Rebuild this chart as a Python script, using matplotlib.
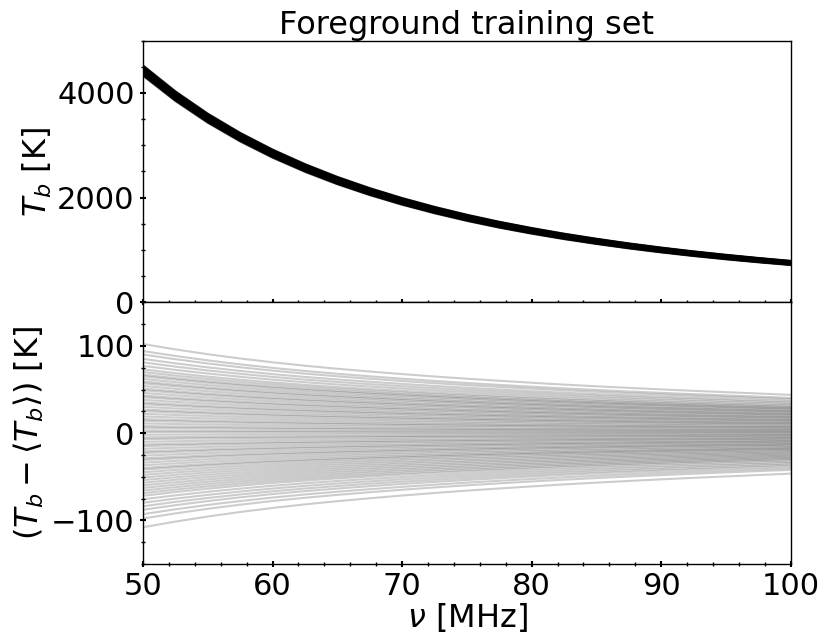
import matplotlib
matplotlib.use('Agg')
import matplotlib.pyplot as plt
import numpy as np
from matplotlib.ticker import MultipleLocator

# frequency samples [MHz] and mean sky temperature [K]
nu_mhz = [50, 52.5, 55, 57.5, 60, 62.5, 65, 67.5, 70, 72.5, 75,
          77.5, 80, 82.5, 85, 87.5, 90, 92.5, 95, 97.5, 100]
tb_mean = [4430, 3941, 3520, 3158, 2843, 2569, 2328, 2117, 1930, 1764, 1616,
           1484, 1367, 1261, 1166, 1079, 1001, 930, 866, 807, 753]

# how the spread of the residuals shrinks with frequency (1 at 50 MHz)
spread_shape = [1.00, 0.940, 0.886, 0.838, 0.795, 0.757, 0.723, 0.692, 0.663, 0.636, 0.611,
                0.588, 0.566, 0.545, 0.526, 0.508, 0.491, 0.475, 0.460, 0.445, 0.43]

# offset of each training curve from the mean at 50 MHz [K]
offsets_50 = [103, 95, 91, 86, 82, 78, 74, 71, 68, 66, 63, 60, 58, 55, 52,
              50, 47, 44, 42, 39, 36, 34, 31, 28, 26, 23, 20, 17, 15, 12,
              9, 7, 4, 2, -1, -4, -6, -9, -12, -14, -17, -20, -22, -25, -28,
              -30, -33, -36, -39, -41, -44, -47, -50, -53, -56, -59, -62, -65,
              -68, -71, -75, -79, -83, -87, -92, -97, -107]


def main():
    nu = np.array(nu_mhz, dtype=float)
    mean = np.array(tb_mean, dtype=float)
    shape = np.array(spread_shape)
    offs = np.array(offsets_50, dtype=float)

    curves = mean[None, :] + offs[:, None] * shape[None, :]
    resid = curves - curves.mean(axis=0)

    fig, (ax_top, ax_bot) = plt.subplots(2, 1, sharex=True, figsize=(8.23, 6.35), dpi=100)
    fig.subplots_adjust(left=0.1738, right=0.9608, top=0.936, bottom=0.1118, hspace=0)

    for c in curves:
        ax_top.plot(nu, c, color='k', alpha=0.5, lw=1.2)
    for r in resid:
        ax_bot.plot(nu, r, color='k', alpha=0.2, lw=1.5)

    ax_top.set_title('Foreground training set', fontsize=23, pad=4)
    ax_top.set_ylabel(r'$T_b$ [K]', fontsize=23)
    ax_bot.set_ylabel(r'$(T_b - \langle T_b \rangle)$ [K]', fontsize=23)
    ax_bot.set_xlabel(r'$\nu$ [MHz]', fontsize=23, labelpad=0)

    ax_top.set_ylim(0, 5000)
    ax_top.set_yticks([0, 2000, 4000])
    ax_top.yaxis.set_minor_locator(MultipleLocator(500))
    ax_bot.set_ylim(-150, 150)
    ax_bot.set_yticks([-100, 0, 100])
    ax_bot.yaxis.set_minor_locator(MultipleLocator(25))
    ax_bot.set_xlim(50, 100)
    ax_bot.set_xticks([50, 60, 70, 80, 90, 100])
    ax_bot.xaxis.set_minor_locator(MultipleLocator(2))

    for ax in (ax_top, ax_bot):
        ax.tick_params(which='both', direction='inout', top=False, right=False, labelsize=22)
        ax.tick_params(which='major', length=5, width=1.5)
        ax.tick_params(which='minor', length=3, width=1)
        for sp in ax.spines.values():
            sp.set_linewidth(1)

    ax_top.yaxis.set_label_coords(-0.137, 0.5)
    ax_bot.yaxis.set_label_coords(-0.15, 0.5)

    fig.savefig('out.png', dpi=100)


if __name__ == '__main__':
    main()
